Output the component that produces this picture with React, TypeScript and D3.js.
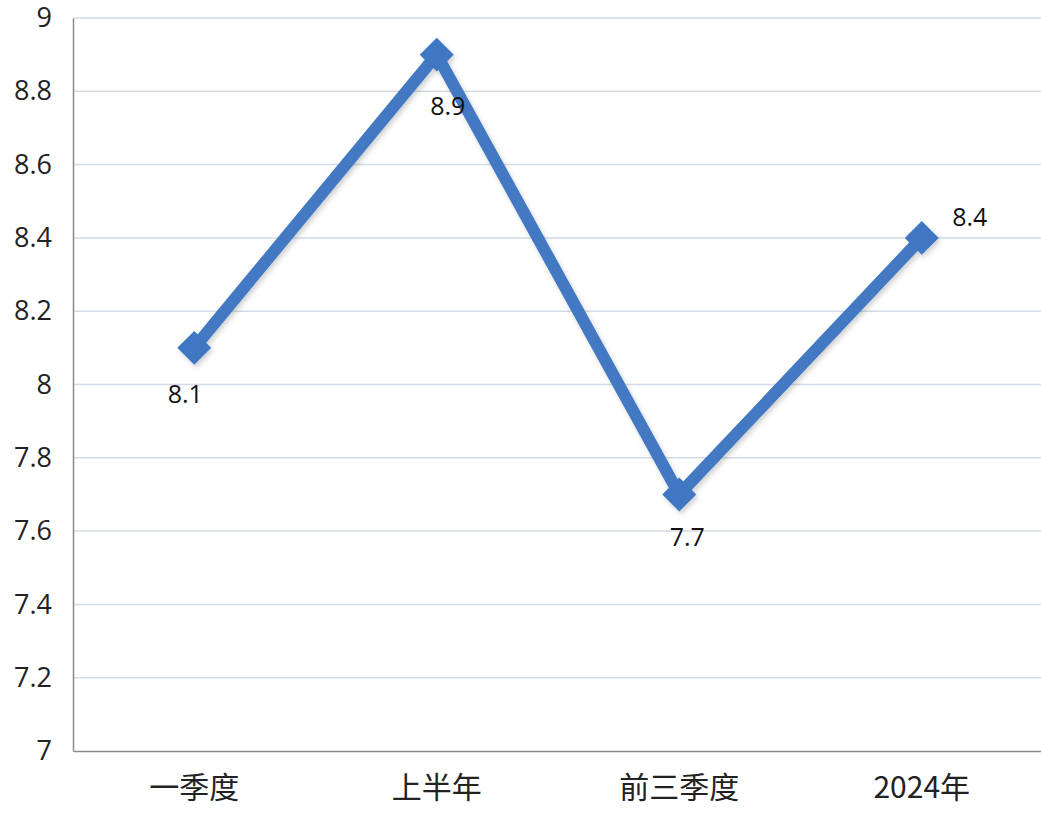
import { useEffect, useRef } from "react";
import * as d3 from "d3";

const categories = ["一季度", "上半年", "前三季度", "2024年"];
const values = [8.1, 8.9, 7.7, 8.4];
const yTicks = [7, 7.2, 7.4, 7.6, 7.8, 8, 8.2, 8.4, 8.6, 8.8, 9];
// label offsets relative to the point (dx, dy)
const labelOffsets: [number, number][] = [
  [-9, 48],
  [11, 54],
  [8, 45],
  [48, -19],
];

const width = 1041;
const height = 814;

export default function App() {
  const svgRef = useRef<SVGSVGElement>(null);

  useEffect(() => {
    document.documentElement.style.overflow = "hidden";
    document.body.style.overflow = "hidden";
    document.body.style.margin = "0";
    if (!svgRef.current) return;
    const svg = d3.select(svgRef.current);
    svg.selectAll("*").remove();

    const left = 73;
    const top = 18;
    const bottom = 751;

    const x = d3.scaleBand<string>().domain(categories).range([left, left + 4 * 242.5]);
    const y = d3.scaleLinear().domain([7, 9]).range([bottom, top]);
    const cx = (c: string) => (x(c) || 0) + x.bandwidth() / 2;

    const defs = svg.append("defs");
    const f = defs.append("filter").attr("id", "sh").attr("x", "-20%").attr("y", "-20%").attr("width", "140%").attr("height", "140%");
    f.append("feDropShadow").attr("dx", 2).attr("dy", 3).attr("stdDeviation", 2.5).attr("flood-color", "#000").attr("flood-opacity", 0.18);

    // gridlines
    svg.append("g")
      .selectAll("line")
      .data(yTicks.filter(t => t !== 7))
      .enter()
      .append("line")
      .attr("x1", left)
      .attr("x2", width)
      .attr("y1", d => y(d))
      .attr("y2", d => y(d))
      .attr("stroke", "#d5dbe6")
      .attr("stroke-width", 1.5);

    // y axis
    const yAxis = svg.append("g")
      .attr("transform", `translate(${left},0)`)
      .call(d3.axisLeft(y).tickValues(yTicks).tickSize(0).tickPadding(21).tickFormat(d => String(d)));
    yAxis.select(".domain").attr("stroke", "#8c8c8c").attr("stroke-width", 1.5);
    yAxis.selectAll("text")
      .attr("font-family", "'Open Sans', 'Liberation Sans', sans-serif")
      .attr("font-size", 27)
      .attr("fill", "#222");

    // x axis
    const xAxis = svg.append("g")
      .attr("transform", `translate(0,${bottom})`)
      .call(d3.axisBottom(x).tickSize(0).tickPadding(26));
    xAxis.select(".domain").attr("stroke", "#8c8c8c").attr("stroke-width", 1.5);
    xAxis.selectAll("text")
      .attr("font-family", "'Noto Sans CJK SC', sans-serif")
      .attr("font-size", 30)
      .attr("fill", "#222");

    const g = svg.append("g").attr("filter", "url(#sh)");
    const line = d3.line<number>()
      .x((_, i) => cx(categories[i]))
      .y(d => y(d));
    g.append("path")
      .datum(values)
      .attr("d", line)
      .attr("fill", "none")
      .attr("stroke", "#4379c2")
      .attr("stroke-width", 12);

    const sym = d3.symbol().type(d3.symbolSquare).size(24 * 24);
    g.selectAll(".pt")
      .data(values)
      .enter()
      .append("path")
      .attr("d", sym)
      .attr("transform", (d, i) => `translate(${cx(categories[i])},${y(d)}) rotate(45)`)
      .attr("fill", "#3f77c3");

    svg.selectAll(".lbl")
      .data(values)
      .enter()
      .append("text")
      .attr("x", (d, i) => cx(categories[i]) + labelOffsets[i][0])
      .attr("y", (d, i) => y(d) + labelOffsets[i][1])
      .attr("text-anchor", "middle")
      .attr("dominant-baseline", "middle")
      .attr("font-family", "'Open Sans', 'Liberation Sans', sans-serif")
      .attr("font-size", 25)
      .attr("fill", "#111")
      .text(d => String(d));
  }, []);

  return (
    <div style={{ position: "absolute", left: 0, top: 0 }}>
      <svg ref={svgRef} width={width} height={height} style={{ display: "block", background: "#fff" }} />
    </div>
  );
}
